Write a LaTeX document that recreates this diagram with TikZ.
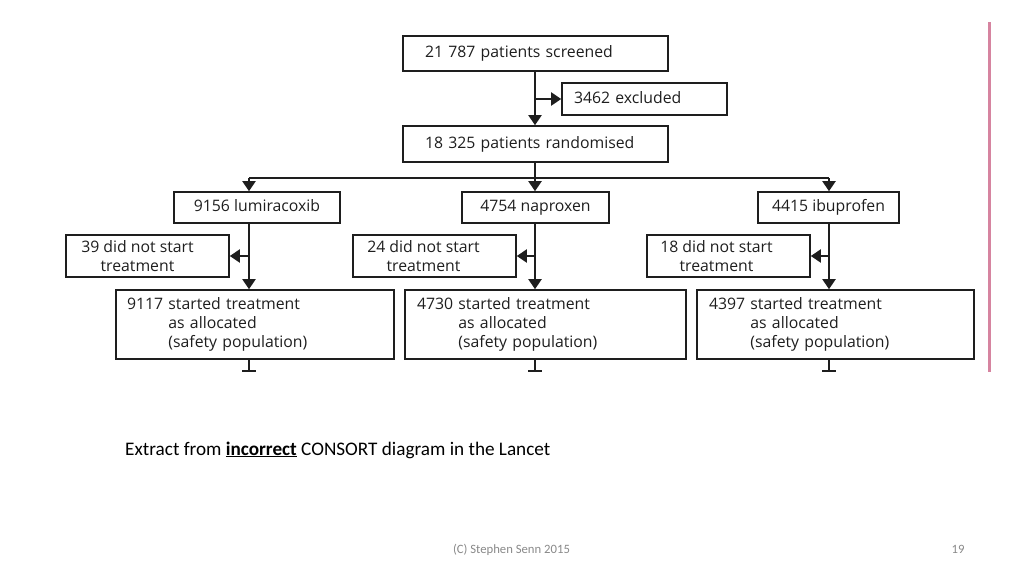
\documentclass[tikz,border=0pt]{standalone}
\usepackage{fontspec}
\setmainfont{Carlito}
\newfontfamily\diag{Open Sans}
\usetikzlibrary{arrows.meta}
\definecolor{pinkc}{RGB}{214,132,160}
\definecolor{ink}{RGB}{30,30,30}
\definecolor{footgray}{RGB}{137,137,137}
\begin{document}
\begin{tikzpicture}[x=1pt,y=-1pt,
  box/.style={draw=ink, line width=1.6pt, inner sep=0pt, text=ink,
    font=\diag\fontsize{15.8}{19}\selectfont},
  single/.style={text height=12pt, text depth=4pt},
  conn/.style={draw=ink, line width=2pt},
  arr/.style={conn, -{Triangle[width=13pt,length=10pt]}}]
\useasboundingbox (0,0) rectangle (1024,576);

% top boxes
\node[box, single, minimum width=265pt, minimum height=35pt, text width=221pt, align=left] (scr) at (535.5,53.5) {21 787 patients screened};
\node[box, single, minimum width=165pt, minimum height=32pt, text width=141pt, align=left] (exc) at (644.5,99) {3462 excluded};
\node[box, single, minimum width=265pt, minimum height=36pt, text width=221pt, align=left] (rnd) at (535.5,144) {18 325 patients randomised};

% arms
\node[box, single, minimum width=166pt, minimum height=31pt] (lum) at (257,207.5) {9156 lumiracoxib};
\node[box, single, minimum width=147pt, minimum height=31pt] (nap) at (535.5,207.5) {4754 naproxen};
\node[box, single, minimum width=141pt, minimum height=31pt] (ibu) at (828.5,207.5) {4415 ibuprofen};

% did not start
\node[box, minimum width=163pt, minimum height=42pt, align=center] (dn1) at (147.5,256) {\hspace*{-20pt}39 did not start\\\hspace*{-20pt}treatment};
\node[box, minimum width=163pt, minimum height=42pt, align=center] (dn2) at (434.5,256) {\hspace*{-22pt}24 did not start\\\hspace*{-22pt}treatment};
\node[box, minimum width=163pt, minimum height=42pt, align=center] (dn3) at (728.5,256) {\hspace*{-24pt}18 did not start\\\hspace*{-24pt}treatment};

% started
\node[box, minimum width=278pt, minimum height=69pt, text width=256pt, align=left] (st1) at (255,324.5) {9117 started treatment\\\phantom{9117 }as allocated\\\phantom{9117 }(safety population)};
\node[box, minimum width=281pt, minimum height=69pt, text width=257pt, align=left] (st2) at (545.5,324.5) {4730 started treatment\\\phantom{4730 }as allocated\\\phantom{4730 }(safety population)};
\node[box, minimum width=277pt, minimum height=69pt, text width=253pt, align=left] (st3) at (835.5,324.5) {4397 started treatment\\\phantom{4397 }as allocated\\\phantom{4397 }(safety population)};

% connectors top
\coordinate (b0) at (535,99);
\draw[arr] (b0 |- scr.south) -- (b0 |- rnd.north);
\draw[arr] (b0) -- (exc.west);

\coordinate (sp) at (535,178);
\coordinate (hl) at (249,178);
\coordinate (hr) at (829,178);
\draw[conn] (sp |- rnd.south) -- (sp);
\draw[conn] (hl) -- (hr);
\draw[arr] (hl) -- (hl |- lum.north);
\draw[arr] (sp) -- (sp |- nap.north);
\draw[arr] (hr) -- (hr |- ibu.north);

% arm connectors
\draw[arr] (hl |- lum.south) -- (hl |- st1.north);
\draw[arr] (sp |- nap.south) -- (sp |- st2.north);
\draw[arr] (hr |- ibu.south) -- (hr |- st3.north);
\draw[arr] (hl |- dn1.east) -- (dn1.east);
\draw[arr] (sp |- dn2.east) -- (dn2.east);
\draw[arr] (hr |- dn3.east) -- (dn3.east);

% truncated ends
\coordinate (t1) at (249,371);
\coordinate (t2) at (535,371);
\coordinate (t3) at (829,371);
\draw[conn] (hl |- st1.south) -- (t1);
\draw[conn] (sp |- st2.south) -- (t2);
\draw[conn] (hr |- st3.south) -- (t3);
\draw[conn] ([xshift=-7pt]t1) -- ([xshift=7pt]t1);
\draw[conn] ([xshift=-7pt]t2) -- ([xshift=7pt]t2);
\draw[conn] ([xshift=-7pt]t3) -- ([xshift=7pt]t3);

% pink rule
\draw[draw=pinkc, line width=3pt] (989,22) -- (989,372);

% caption & footer
\node[anchor=base west, inner sep=0pt, font=\fontsize{19.2}{22}\selectfont] (cap) at (125,455) {Extract from \textbf{\underline{incorrect}} CONSORT diagram in the Lancet};
\node[anchor=base, inner sep=0pt, text=footgray, font=\fontsize{12.7}{14}\selectfont] (ft) at (511.5,553) {(C) Stephen Senn 2015};
\node[anchor=base, inner sep=0pt, text=footgray, font=\fontsize{12.7}{14}\selectfont] (pg) at (958,553) {19};
\end{tikzpicture}
\end{document}
